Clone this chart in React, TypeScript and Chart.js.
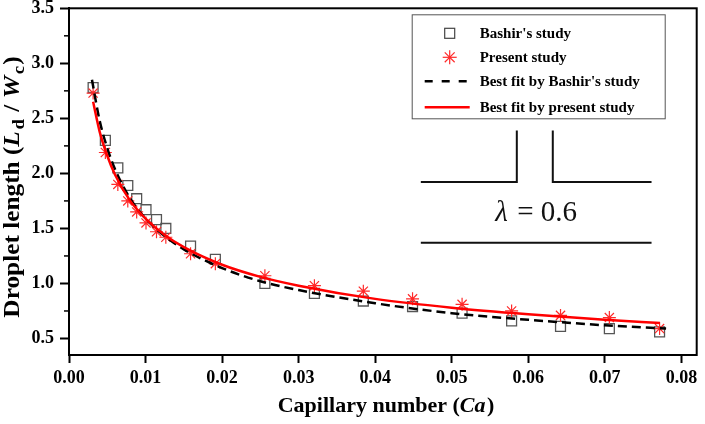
import React, { useEffect, useRef } from "react";
import { Chart, registerables } from "chart.js";

Chart.register(...registerables);

// ---- data ----
const caPoints = [0.00315, 0.00475, 0.00638, 0.00768, 0.00884, 0.01006, 0.01143, 0.01265, 0.01588, 0.01912, 0.02559, 0.03206, 0.03845, 0.04488, 0.05135, 0.05782, 0.06421, 0.07059, 0.07715];
const bashirStudy = [2.78, 2.30, 2.05, 1.89, 1.77, 1.67, 1.58, 1.50, 1.34, 1.22, 1.00, 0.91, 0.84, 0.79, 0.73, 0.66, 0.61, 0.59, 0.56];
const presentStudy = [2.73, 2.19, 1.90, 1.75, 1.65, 1.55, 1.47, 1.42, 1.27, 1.18, 1.07, 0.98, 0.93, 0.86, 0.81, 0.75, 0.71, 0.69, 0.59];

const bashirFitCa = [0.0030, 0.0040, 0.0050, 0.0060, 0.0080, 0.0100, 0.0125, 0.0150, 0.0200, 0.0250, 0.0300, 0.0400, 0.0500, 0.0600, 0.0700, 0.0780];
const bashirFit = [2.85, 2.48, 2.23, 2.04, 1.77, 1.59, 1.43, 1.31, 1.14, 1.02, 0.94, 0.82, 0.73, 0.67, 0.62, 0.59];
const presentFitCa = [0.00315, 0.0040, 0.0050, 0.0060, 0.0080, 0.0100, 0.0125, 0.0150, 0.0200, 0.0250, 0.0300, 0.0400, 0.0500, 0.0600, 0.0700, 0.0772];
const presentFit = [2.65, 2.38, 2.16, 1.99, 1.75, 1.59, 1.44, 1.33, 1.17, 1.06, 0.98, 0.86, 0.78, 0.72, 0.67, 0.64];

const xTicks = [0, 0.01, 0.02, 0.03, 0.04, 0.05, 0.06, 0.07, 0.08];
const yTicks = [0.5, 1.0, 1.5, 2.0, 2.5, 3.0, 3.5];
const yMinorTicks = [0.75, 1.25, 1.75, 2.25, 2.75, 3.25];

const legendLabels = ["Bashir's study", "Present study", "Best fit by Bashir's study", "Best fit by present study"];
const lambdaSymbol = "\u03BB";
const lambdaValue = " = 0.6";

const SERIF = '"Liberation Serif", "Times New Roman", serif';

type Seg = { t: string; italic?: boolean; sub?: boolean };
const yTitle: Seg[] = [
  { t: "Droplet length (" },
  { t: "L", italic: true },
  { t: "d", sub: true },
  { t: " / " },
  { t: "W", italic: true },
  { t: "c", sub: true },
  { t: ")" },
];
const xTitle: Seg[] = [
  { t: "Capillary number (" },
  { t: "Ca", italic: true },
  { t: ")" },
];

function drawRich(ctx: CanvasRenderingContext2D, segs: Seg[], x: number, y: number, size: number) {
  const fontFor = (s: Seg) =>
    `${s.italic ? "italic " : ""}bold ${s.sub ? Math.round(size * 0.72) : size}px ${SERIF}`;
  const widths = segs.map((s) => {
    ctx.font = fontFor(s);
    return ctx.measureText(s.t).width + (s.italic ? 1.5 : 0) + (s.sub ? 1 : 0);
  });
  const total = widths.reduce((a, b) => a + b, 0);
  let cx = x - total / 2;
  ctx.textAlign = "left";
  ctx.textBaseline = "alphabetic";
  segs.forEach((s, i) => {
    ctx.font = fontFor(s);
    ctx.fillText(s.t, cx, s.sub ? y + size * 0.22 : y);
    cx += widths[i];
  });
}

const decorPlugin = {
  id: "decor",
  afterDraw(chart: any) {
    const { ctx, chartArea: a, scales } = chart;
    const xs = scales.x;
    const ys = scales.y;
    ctx.save();
    ctx.fillStyle = "#000";
    ctx.strokeStyle = "#000";

    // frame
    ctx.lineWidth = 2;
    ctx.strokeRect(a.left, a.top, a.right - a.left, a.bottom - a.top);

    // minor y ticks
    ctx.lineWidth = 1.5;
    yMinorTicks.forEach((v) => {
      const py = ys.getPixelForValue(v);
      ctx.beginPath();
      ctx.moveTo(a.left - 5, py);
      ctx.lineTo(a.left, py);
      ctx.stroke();
    });

    // axis titles
    ctx.fillStyle = "#000";
    drawRich(ctx, xTitle, 386, 412, 22);
    ctx.save();
    ctx.translate(19, 187);
    ctx.rotate(-Math.PI / 2);
    ctx.scale(1.1, 1);
    drawRich(ctx, yTitle, 0, 0, 23);
    ctx.restore();

    // legend box
    const bx = a.right - 285, by = a.top + 6, bw = 253, bh = 104;
    ctx.lineWidth = 1;
    ctx.strokeStyle = "#555";
    ctx.strokeRect(bx + 0.5, by + 0.5, bw, bh);
    const rows = [by + 19, by + 43, by + 67, by + 93];
    const symX = bx + 38;
    const textX = bx + 68;
    // square
    ctx.strokeStyle = "#444";
    ctx.lineWidth = 1.2;
    ctx.strokeRect(symX - 5, rows[0] - 5, 10, 10);
    // star
    ctx.strokeStyle = "#ff2a2a";
    ctx.lineWidth = 1.2;
    const r = 7;
    for (let k = 0; k < 4; k++) {
      const ang = (k * Math.PI) / 4;
      ctx.beginPath();
      ctx.moveTo(symX - r * Math.cos(ang), rows[1] - r * Math.sin(ang));
      ctx.lineTo(symX + r * Math.cos(ang), rows[1] + r * Math.sin(ang));
      ctx.stroke();
    }
    // dashed
    ctx.strokeStyle = "#000";
    ctx.lineWidth = 2.5;
    ctx.setLineDash([8, 9]);
    ctx.beginPath();
    ctx.moveTo(symX - 25, rows[2]);
    ctx.lineTo(symX + 20, rows[2]);
    ctx.stroke();
    ctx.setLineDash([]);
    // red line
    ctx.strokeStyle = "#ff0000";
    ctx.lineWidth = 2.5;
    ctx.beginPath();
    ctx.moveTo(symX - 25, rows[3]);
    ctx.lineTo(symX + 20, rows[3]);
    ctx.stroke();
    // texts
    ctx.fillStyle = "#000";
    ctx.font = `bold 15px ${SERIF}`;
    ctx.textAlign = "left";
    ctx.textBaseline = "middle";
    legendLabels.forEach((t, i) => ctx.fillText(t, textX, rows[i] + 1));

    // channel schematic (positioned in data units)
    ctx.strokeStyle = "#111";
    ctx.lineWidth = 2;
    const X = (v: number) => xs.getPixelForValue(v);
    const Y = (v: number) => ys.getPixelForValue(v);
    const xl = X(0.04596), xg1 = X(0.0585), xg2 = X(0.0632), xr = X(0.0761);
    const yTop = Y(2.39), yMid = Y(1.921), yBot = Y(1.369);
    ctx.beginPath();
    ctx.moveTo(xl, yMid);
    ctx.lineTo(xg1, yMid);
    ctx.lineTo(xg1, yTop);
    ctx.moveTo(xg2, yTop);
    ctx.lineTo(xg2, yMid);
    ctx.lineTo(xr, yMid);
    ctx.moveTo(xl, yBot);
    ctx.lineTo(xr, yBot);
    ctx.stroke();
    ctx.fillStyle = "#111";
    ctx.textBaseline = "middle";
    ctx.textAlign = "left";
    const fs = 29;
    ctx.font = `italic ${fs}px ${SERIF}`;
    const wl = ctx.measureText(lambdaSymbol).width + 2;
    ctx.font = `${fs}px ${SERIF}`;
    const wv = ctx.measureText(lambdaValue).width;
    const cx = (xl + xr) / 2 - (wl + wv) / 2;
    const cy = (yMid + yBot) / 2 + 1;
    ctx.font = `italic ${fs}px ${SERIF}`;
    ctx.fillText(lambdaSymbol, cx, cy);
    ctx.font = `${fs}px ${SERIF}`;
    ctx.fillText(lambdaValue, cx + wl, cy);

    ctx.restore();
  },
};

export default function App() {
  const ref = useRef<HTMLCanvasElement | null>(null);
  useEffect(() => {
    document.body.style.margin = "0";
    const canvas = ref.current;
    if (!canvas) return;
    const chart = new Chart(canvas, {
      type: "scatter",
      data: {
        datasets: [
          {
            label: "Best fit by present study",
            data: presentFitCa.map((x, i) => ({ x, y: presentFit[i] })),
            showLine: true,
            borderColor: "#ff0000",
            borderWidth: 2.5,
            pointRadius: 0,
            cubicInterpolationMode: "monotone",
            order: 0,
          },
          {
            label: "Best fit by Bashir's study",
            data: bashirFitCa.map((x, i) => ({ x, y: bashirFit[i] })),
            showLine: true,
            borderColor: "#000",
            borderWidth: 2.5,
            borderDash: [9, 5],
            pointRadius: 0,
            cubicInterpolationMode: "monotone",
            order: 1,
          },
          {
            label: "Present study",
            data: caPoints.map((x, i) => ({ x, y: presentStudy[i] })),
            pointStyle: "star",
            pointRadius: 6.5,
            pointBorderWidth: 1.2,
            borderColor: "#ff2a2a",
            backgroundColor: "#ff2a2a",
            order: 2,
          },
          {
            label: "Bashir's study",
            data: caPoints.map((x, i) => ({ x, y: bashirStudy[i] })),
            pointStyle: "rect",
            pointRadius: 7,
            pointBorderWidth: 1.3,
            borderColor: "#555",
            backgroundColor: "rgba(0,0,0,0)",
            order: 3,
          },
        ] as any,
      },
      options: {
        responsive: false,
        animation: false,
        layout: { padding: { top: 8, right: 3, left: 0, bottom: 0 } },
        plugins: { legend: { display: false }, tooltip: { enabled: false } },
        scales: {
          x: {
            type: "linear",
            min: 0,
            max: 0.082,
            afterBuildTicks: (s: any) => {
              s.ticks = xTicks.map((value) => ({ value }));
            },
            afterFit: (s: any) => {
              s.height = 69;
              s.paddingLeft = 0;
              s.paddingRight = 0;
              s.paddingTop = 0;
              s.paddingBottom = 0;
            },
            grid: { display: true, drawOnChartArea: false, drawTicks: true, tickLength: 8, tickWidth: 2, tickColor: "#000" },
            border: { display: true, color: "#000", width: 2 },
            ticks: {
              color: "#000",
              padding: 5,
              maxRotation: 0,
              autoSkip: false,
              font: { family: SERIF, size: 18, weight: "bold" },
              callback: (v: any) => Number(v).toFixed(2),
            },
          },
          y: {
            type: "linear",
            min: 0.35,
            max: 3.5,
            afterBuildTicks: (s: any) => {
              s.ticks = yTicks.map((value) => ({ value }));
            },
            afterFit: (s: any) => {
              s.width = 69;
              s.paddingLeft = 0;
              s.paddingRight = 0;
              s.paddingTop = 0;
              s.paddingBottom = 0;
            },
            grid: { display: true, drawOnChartArea: false, drawTicks: true, tickLength: 9, tickWidth: 2, tickColor: "#000" },
            border: { display: true, color: "#000", width: 2 },
            ticks: {
              color: "#000",
              padding: 6,
              autoSkip: false,
              font: { family: SERIF, size: 18, weight: "bold" },
              callback: (v: any) => Number(v).toFixed(1),
            },
          },
        },
      } as any,
      plugins: [decorPlugin],
    });
    return () => chart.destroy();
  }, []);
  return <canvas ref={ref} width={705} height={424} style={{ display: "block" }} />;
}
